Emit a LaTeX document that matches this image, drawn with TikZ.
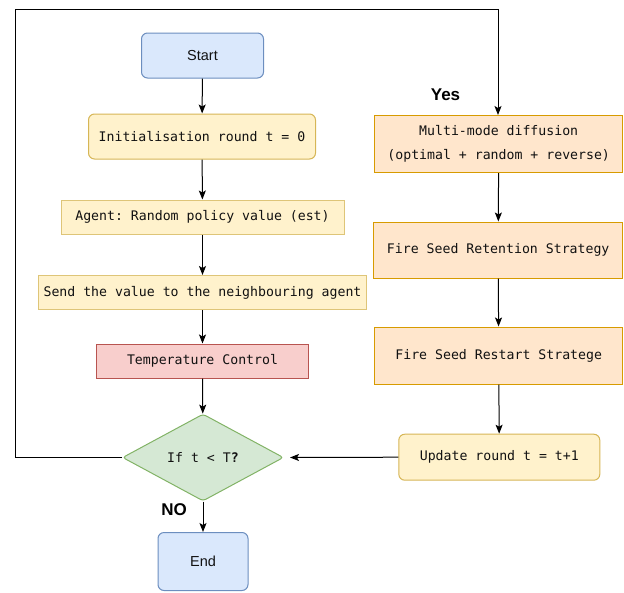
\documentclass[tikz,border=0pt]{standalone}
\usepackage{fontspec}
\setmainfont{Liberation Sans}
\setsansfont{Liberation Sans}
\setmonofont{DejaVu Sans Mono}
\usetikzlibrary{arrows.meta,shapes.geometric}
\definecolor{blueF}{HTML}{DAE8FC}
\definecolor{blueD}{HTML}{6C8EBF}
\definecolor{yelF}{HTML}{FFF2CC}
\definecolor{yelD}{HTML}{D6B656}
\definecolor{redF}{HTML}{F8CECC}
\definecolor{redD}{HTML}{B85450}
\definecolor{greF}{HTML}{D5E8D4}
\definecolor{greD}{HTML}{82B366}
\definecolor{oraF}{HTML}{FFE6CC}
\definecolor{oraD}{HTML}{D79B00}
\definecolor{txt}{HTML}{111111}
\tikzset{
  box/.style={draw, line width=1pt, inner sep=0pt, text=txt,
    font=\ttfamily\fontsize{13.2}{17}\selectfont, align=center},
  termbox/.style={box, fill=blueF, draw=blueD, rounded corners=6pt,
    font=\sffamily\fontsize{14.5}{17}\selectfont},
  yelround/.style={box, fill=yelF, draw=yelD, rounded corners=6pt},
  yelsharp/.style={box, fill=yelF, draw=yelD!80},
  redbox/.style={box, fill=redF, draw=redD},
  orabox/.style={box, fill=oraF, draw=oraD},
  decision/.style={box, diamond, fill=greF, draw=greD, rounded corners=3pt,
    aspect=1.85},
  arr/.style={-{Stealth[length=9pt,width=7pt,inset=2pt]}, line width=1pt, black},
  lbl/.style={font=\sffamily\bfseries\fontsize{17}{20}\selectfont, text=black}
}
\begin{document}
\begin{tikzpicture}[x=1pt,y=-1pt]
\useasboundingbox (0,0) rectangle (624,592);
% left column
\node[termbox, minimum width=122pt, minimum height=45pt] (start) at (202.5,55.5) {Start};
\node[yelround, minimum width=227pt, minimum height=45pt] (init) at (202,136.5) {Initialisation round t = 0};
\node[yelsharp, minimum width=283pt, minimum height=34pt] (agent) at (202.5,217) {Agent: Random policy value (est)};
\node[yelsharp, minimum width=328pt, minimum height=34pt] (send) at (202.5,292.5) {Send the value to the neighbouring agent};
\node[redbox, minimum width=212pt, minimum height=34pt] (temp) at (202.5,361) {Temperature Control};
\node[decision, minimum width=161pt, minimum height=87pt] (dec) at (203,457.5) {If t < T\textbf{?}};
\node[termbox, minimum width=90pt, minimum height=58pt] (end) at (203,561.5) {End};
% right column
\node[orabox, minimum width=248pt, minimum height=57pt] (multi) at (498.7,144) {Multi-mode diffusion\\[7pt](optimal + random + reverse)};
\node[orabox, minimum width=249pt, minimum height=56pt] (ret) at (498.2,250) {Fire Seed Retention Strategy};
\node[orabox, minimum width=248pt, minimum height=57pt] (rest) at (498.7,355.5) {Fire Seed Restart Stratege};
\node[yelround, minimum width=201pt, minimum height=46pt] (upd) at (499.3,457.2) {Update round t = t+1};
% connectors
\draw[arr] (start) -- (init);
\draw[arr] (init) -- (agent);
\draw[arr] (agent) -- (send);
\draw[arr] (send) -- (temp);
\draw[arr] (temp) -- (dec);
\draw[arr] (dec.south) -- (end);
\draw[arr] (multi) -- (ret);
\draw[arr] (ret) -- (rest);
\draw[arr] (rest) -- (upd);
\coordinate (dtip) at ([xshift=6pt]dec.east);
\draw[arr] (upd.west) -- (dtip);
\coordinate (c1) at (15.5,457.5);
\coordinate (c2) at (15.5,9);
\coordinate (c3) at (498,9);
\draw[line width=1pt] (dec.west) -- (c1) -- (c2) -- (c3);
\draw[arr] (c3) -- (multi.north -| c3);
% labels
\node[lbl] (yes) at (445.5,94.5) {Yes};
\node[lbl] (no) at (174,510) {NO};
\end{tikzpicture}
\end{document}
